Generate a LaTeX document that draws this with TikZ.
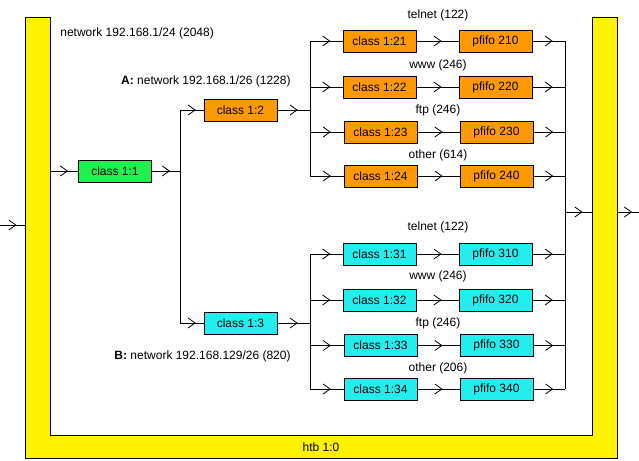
\documentclass[tikz,border=0pt]{standalone}
\usepackage{fontspec}
\setmainfont{Liberation Sans}
\usepackage{xcolor}
\usetikzlibrary{arrows.meta, decorations.markings, calc}
\definecolor{rootgreen}{RGB}{32,240,80}
\definecolor{qorange}{RGB}{255,153,0}
\definecolor{qcyan}{RGB}{34,238,238}

\begin{document}
\begin{tikzpicture}[x=1pt, y=-1pt, line width=0.8pt,
  font=\fontsize{12}{14}\selectfont,
  box/.style={draw, rectangle, minimum width=73pt, minimum height=22pt, inner sep=0pt},
  flow/.style={postaction={decorate}, decoration={markings,
    mark=at position 0.5 with {\draw[-{Straight Barb[length=7pt, width=10pt]}] (-4pt,0) -- (4pt,0);}}}]
\useasboundingbox (0,0) rectangle (639,460);

% htb 1:0 root qdisc
\draw[fill=yellow] (25,17) -- (50,17) -- (50,435) -- (592,435) -- (592,17) -- (617,17) -- (617,458) -- (25,458) -- cycle;
\node (htb) at (321,447) {htb 1:0};

% Network labels
\node[anchor=west, inner sep=0pt] (netall) at (60,33) {network 192.168.1/24 (2048)};
\node[anchor=east, inner sep=0pt] (neta) at (291,81) {\textbf{A:}\ network 192.168.1/26 (1228)};
\node[anchor=east, inner sep=0pt] (netb) at (291,356) {\textbf{B:}\ network 192.168.129/26 (820)};

% Root class
\node[box, fill=rootgreen] (c11) at (115,171) {class 1:1};

% Branch classes
\node[box, fill=qorange] (c12) at (240.5,110) {class 1:2};
\node[box, fill=qcyan] (c13) at (240.5,323) {class 1:3};

% Leaf classes of A
\node[box, fill=qorange] (c21) at (379.5,41) {class 1:21};
\node[box, fill=qorange] (p21) at (495.5,41) {pfifo 210};
\node[box, fill=qorange] (c22) at (379.5,87) {class 1:22};
\node[box, fill=qorange] (p22) at (495.5,87) {pfifo 220};
\node[box, fill=qorange] (c23) at (380.5,132) {class 1:23};
\node[box, fill=qorange] (p23) at (496.5,132) {pfifo 230};
\node[box, fill=qorange] (c24) at (380.5,176) {class 1:24};
\node[box, fill=qorange] (p24) at (496.5,176) {pfifo 240};

% Leaf classes of B
\node[box, fill=qcyan] (c31) at (379.5,254) {class 1:31};
\node[box, fill=qcyan] (p31) at (495.5,254) {pfifo 310};
\node[box, fill=qcyan] (c32) at (379.5,300) {class 1:32};
\node[box, fill=qcyan] (p32) at (495.5,300) {pfifo 320};
\node[box, fill=qcyan] (c33) at (380.5,345.5) {class 1:33};
\node[box, fill=qcyan] (p33) at (496.5,345.5) {pfifo 330};
\node[box, fill=qcyan] (c34) at (380.5,389) {class 1:34};
\node[box, fill=qcyan] (p34) at (496.5,389) {pfifo 340};

% Traffic labels
\node (l21) at (438,15) {telnet (122)};
\node (l22) at (438,65) {www (246)};
\node (l23) at (438,110) {ftp (246)};
\node (l24) at (438,155) {other (614)};
\node (l31) at (438,227) {telnet (122)};
\node (l32) at (438,276) {www (246)};
\node (l33) at (438,323) {ftp (246)};
\node (l34) at (438,368) {other (206)};

% Junction points
\coordinate (in) at (0,225);
\coordinate (htbin) at (25,225);
\coordinate (c11in) at (50,171);
\coordinate (j1) at (180,171);
\coordinate (j2) at (310,110);
\coordinate (j3) at (310,323);
\coordinate (j4) at (565,212);
\coordinate (htbr) at (592,212);
\coordinate (htbo) at (617,212);
\coordinate (out) at (639,212);

% Input side
\draw[flow] (in) -- (htbin);
\draw[flow] (c11in) -- (c11);
\draw[flow] (c11) -- (j1);
\draw (j1 |- c12) -- (j1 |- c13);
\draw[flow] (j1 |- c12) -- (c12);
\draw[flow] (j1 |- c13) -- (c13);

% Branch A
\draw[flow] (c12) -- (j2);
\draw (j2 |- c21) -- (j2 |- c24);
\draw[flow] (j2 |- c21) -- (c21);
\draw[flow] (j2 |- c22) -- (c22);
\draw[flow] (j2 |- c23) -- (c23);
\draw[flow] (j2 |- c24) -- (c24);
\draw[flow] (c21) -- (p21);
\draw[flow] (c22) -- (p22);
\draw[flow] (c23) -- (p23);
\draw[flow] (c24) -- (p24);

% Branch B
\draw[flow] (c13) -- (j3);
\draw (j3 |- c31) -- (j3 |- c34);
\draw[flow] (j3 |- c31) -- (c31);
\draw[flow] (j3 |- c32) -- (c32);
\draw[flow] (j3 |- c33) -- (c33);
\draw[flow] (j3 |- c34) -- (c34);
\draw[flow] (c31) -- (p31);
\draw[flow] (c32) -- (p32);
\draw[flow] (c33) -- (p33);
\draw[flow] (c34) -- (p34);

% Output side
\draw[flow] (p21) -- (p21 -| j4);
\draw[flow] (p22) -- (p22 -| j4);
\draw[flow] (p23) -- (p23 -| j4);
\draw[flow] (p24) -- (p24 -| j4);
\draw[flow] (p31) -- (p31 -| j4);
\draw[flow] (p32) -- (p32 -| j4);
\draw[flow] (p33) -- (p33 -| j4);
\draw[flow] (p34) -- (p34 -| j4);
\draw (j4 |- p21) -- (j4 |- p34);
\draw[flow] (j4) -- (htbr);
\draw[flow] (htbo) -- (out);

\end{tikzpicture}
\end{document}
